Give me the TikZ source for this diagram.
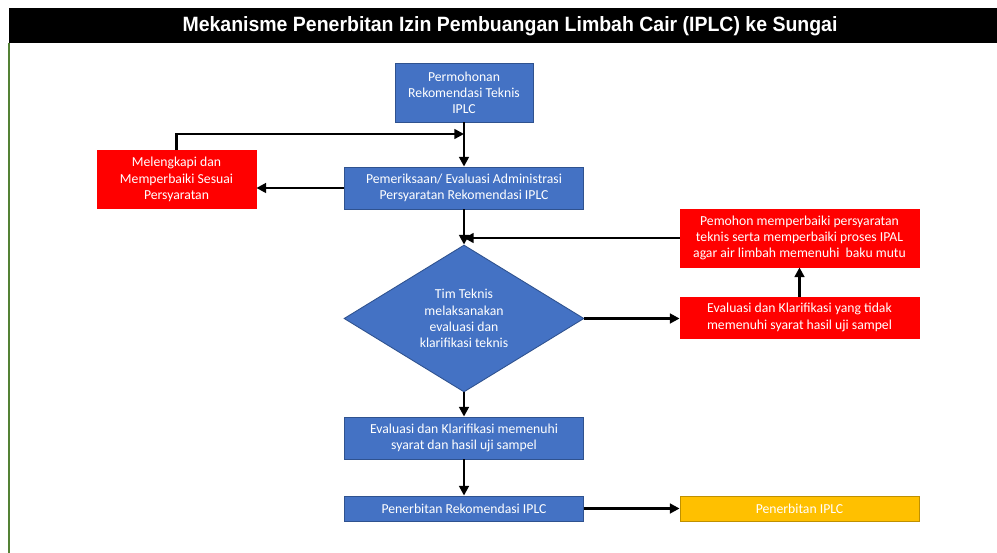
\documentclass[tikz,border=0pt]{standalone}
\usepackage{fontspec}
\setmainfont{Carlito}
\newfontfamily\titlefont{Liberation Sans}
\usetikzlibrary{arrows.meta,shapes.geometric}

\definecolor{boxblue}{HTML}{4472C4}
\definecolor{blueline}{HTML}{2F528F}
\definecolor{boxred}{HTML}{FF0000}
\definecolor{boxgold}{HTML}{FFC000}
\definecolor{goldline}{HTML}{BF9000}
\definecolor{frameline}{HTML}{548235}

\tikzset{
  box/.style={rectangle, inner sep=0pt, text=white, align=center,
    font=\fontsize{7.8}{9.2}\selectfont, line width=0.5pt},
  bluebox/.style={box, fill=boxblue, draw=blueline},
  redbox/.style={box, fill=boxred, draw=boxred},
  goldbox/.style={box, fill=boxgold, draw=goldline},
  flow/.style={line width=1.7pt, -{Triangle[length=5.5pt, width=5.5pt]}}
}

\begin{document}
\begin{tikzpicture}[x=0.02cm, y=-0.02cm]
\useasboundingbox (0,0) rectangle (997,553);

% frame and title
\fill[black] (9,8) rectangle (997,43);
\draw[frameline, line width=0.6pt] (9,43) -- (9,553);
\node[text=white, inner sep=0pt] (title) at (510,26)
  {\resizebox{13.1cm}{0.3cm}{\titlefont\bfseries Mekanisme Penerbitan Izin Pembuangan Limbah Cair (IPLC) ke Sungai}};

% main column
\node[bluebox, minimum width=2.76cm, minimum height=1.18cm] (mohon) at (464,92.5)
  {Permohonan\\Rekomendasi Teknis\\IPLC};
\node[bluebox, minimum width=4.78cm, minimum height=0.84cm] (periksa) at (464,188)
  {Pemeriksaan/ Evaluasi Administrasi\\Persyaratan Rekomendasi IPLC};
\node[diamond, fill=boxblue, draw=blueline, line width=0.5pt, inner sep=0pt,
  aspect=1.63, minimum width=4.8cm, minimum height=2.94cm, text=white,
  align=center, font=\fontsize{7.8}{9.2}\selectfont] (tim) at (464,318.5)
  {Tim Teknis\\melaksanakan\\evaluasi dan\\klarifikasi teknis};
\node[bluebox, minimum width=4.78cm, minimum height=0.84cm] (memenuhi) at (464,438)
  {Evaluasi dan Klarifikasi memenuhi\\syarat dan hasil uji sampel};
\node[bluebox, minimum width=4.78cm, minimum height=0.5cm] (rekom) at (464,508.5)
  {Penerbitan Rekomendasi IPLC};

% side boxes
\node[redbox, minimum width=3.18cm, minimum height=1.16cm] (lengkapi) at (176.5,179.5)
  {Melengkapi dan\\Memperbaiki Sesuai\\Persyaratan};
\node[redbox, minimum width=4.78cm, minimum height=1.16cm] (perbaiki) at (799.5,238)
  {Pemohon memperbaiki persyaratan\\teknis serta memperbaiki proses IPAL\\agar air limbah memenuhi\ \ baku mutu};
\node[redbox, minimum width=4.78cm, minimum height=0.82cm] (tidak) at (799.5,317.5)
  {Evaluasi dan Klarifikasi yang tidak\\memenuhi syarat hasil uji sampel};
\node[goldbox, minimum width=4.78cm, minimum height=0.5cm] (iplc) at (799.5,508.5)
  {Penerbitan IPLC};

\coordinate (j1) at (464,134);
\coordinate (j2) at (464,238);

% arrows
\draw[flow] (mohon) -- (periksa);
\draw[flow] (periksa.west) -- (periksa.west -| lengkapi.east);
\draw[flow] (lengkapi.north) |- (j1);
\draw[flow] (periksa) -- (tim);
\draw[flow] (tim.east) -- (tim.east -| tidak.west);
\draw[flow] (tidak) -- (perbaiki);
\draw[flow] (perbaiki.west) -- (j2);
\draw[flow] (tim) -- (memenuhi);
\draw[flow] (memenuhi) -- (rekom);
\draw[flow] (rekom) -- (iplc);
\end{tikzpicture}
\end{document}
